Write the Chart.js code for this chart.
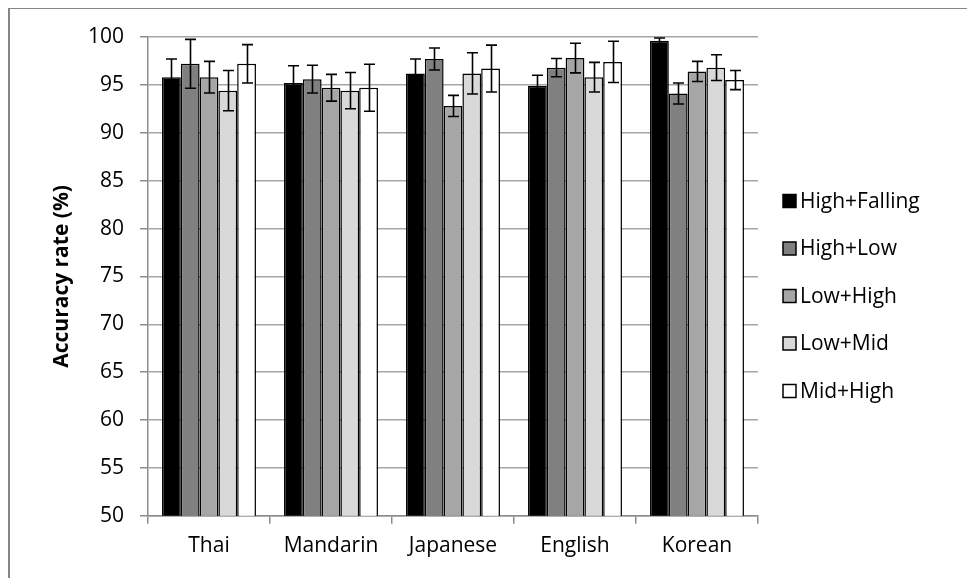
<!DOCTYPE html>
<html>
<head>
<meta charset="utf-8">
<script src="https://cdn.jsdelivr.net/npm/chart.js@4/dist/chart.umd.min.js"></script>
<style>
  html, body { margin: 0; padding: 0; background: #fff; }
  #wrap { position: relative; width: 967px; height: 578px; overflow: hidden; }
  #frame { position: absolute; left: 8px; top: 8px; width: 1000px; height: 600px;
           border-left: 2px solid #868686; border-top: 1px solid #868686; }
  canvas { position: absolute; left: 0; top: 0; }
</style>
</head>
<body>
<div id="wrap">
  <div id="frame"></div>
  <canvas id="c" width="967" height="578"></canvas>
</div>
<script>
// Languages on the x axis
const languages = ['Thai', 'Mandarin', 'Japanese', 'English', 'Korean'];

// Tone-pair conditions (one series each)
const seriesNames = ['High+Falling', 'High+Low', 'Low+High', 'Low+Mid', 'Mid+High'];
const seriesColors = ['#000000', '#808080', '#a6a6a6', '#d9d9d9', '#ffffff'];

// Mean accuracy (%) per condition, in language order
const highFalling = [95.8, 95.2, 96.2, 94.9, 99.6];
const highLow     = [97.2, 95.6, 97.7, 96.8, 94.1];
const lowHigh     = [95.8, 94.7, 92.8, 97.8, 96.4];
const lowMid      = [94.4, 94.4, 96.2, 95.8, 96.8];
const midHigh     = [97.2, 94.7, 96.7, 97.4, 95.5];

// Error-bar half-lengths (%) per condition
const highFallingErr = [1.9, 1.8, 1.5, 1.1, 0.3];
const highLowErr     = [2.55, 1.45, 1.15, 0.95, 1.1];
const lowHighErr     = [1.65, 1.4, 1.1, 1.55, 1.05];
const lowMidErr      = [2.1, 1.9, 2.15, 1.55, 1.35];
const midHighErr     = [2.0, 2.45, 2.45, 2.15, 1.0];

// y axis range and step
const yMin = 50, yMax = 100, yStep = 5;

const values = [highFalling, highLow, lowHigh, lowMid, midHigh];
const errors = [highFallingErr, highLowErr, lowHighErr, lowMidErr, midHighErr];

const FONT = '"Open Sans", "DejaVu Sans", sans-serif';

// Draws symmetric error bars with caps on top of each bar
const errorBars = {
  id: 'errorBars',
  afterDatasetsDraw(chart) {
    const ctx = chart.ctx;
    const y = chart.scales.y;
    ctx.save();
    ctx.strokeStyle = '#000';
    ctx.lineWidth = 1.6;
    chart.data.datasets.forEach((ds, di) => {
      const meta = chart.getDatasetMeta(di);
      meta.data.forEach((bar, i) => {
        const v = ds.data[i];
        const e = ds.errors[i];
        const yTop = y.getPixelForValue(v + e);
        const yBot = y.getPixelForValue(v - e);
        const x = Math.round(bar.x) + 0.5;
        const cap = 5.5;
        ctx.beginPath();
        ctx.moveTo(x, yTop); ctx.lineTo(x, yBot);
        ctx.moveTo(x - cap, yTop); ctx.lineTo(x + cap, yTop);
        ctx.moveTo(x - cap, yBot); ctx.lineTo(x + cap, yBot);
        ctx.stroke();
      });
    });
    ctx.restore();
  }
};

// Legend column to the right of the plot area
const sideLegend = {
  id: 'sideLegend',
  afterDraw(chart) {
    const ctx = chart.ctx;
    const area = chart.chartArea;
    const boxX = area.right + 25;
    const textX = boxX + 17;
    const firstY = 201;
    const gap = 47.5;
    const box = 13;
    ctx.save();
    ctx.font = '21px ' + FONT;
    ctx.textBaseline = 'middle';
    ctx.textAlign = 'left';
    chart.data.datasets.forEach((ds, i) => {
      const cy = firstY + i * gap;
      ctx.fillStyle = ds.backgroundColor;
      ctx.fillRect(boxX, cy - box / 2, box, box);
      ctx.strokeStyle = '#000';
      ctx.lineWidth = 1.5;
      ctx.strokeRect(boxX, cy - box / 2, box, box);
      ctx.fillStyle = '#000';
      ctx.fillText(ds.label, textX, cy + 1);
    });
    ctx.restore();
  }
};

const datasets = seriesNames.map((name, i) => ({
  label: name,
  data: values[i],
  errors: errors[i],
  backgroundColor: seriesColors[i],
  borderColor: '#000',
  borderWidth: 1.5,
  categoryPercentage: 0.77,
  barPercentage: 1.0
}));

new Chart(document.getElementById('c'), {
  type: 'bar',
  data: { labels: languages, datasets },
  options: {
    responsive: false,
    animation: false,
    devicePixelRatio: 1,
    layout: { padding: { top: 37, right: 209, bottom: 9, left: 0 } },
    plugins: { legend: { display: false }, tooltip: { enabled: false } },
    scales: {
      x: {
        grid: {
          offset: true,
          drawOnChartArea: false,
          drawTicks: true,
          tickLength: 8,
          color: '#8c8c8c',
          lineWidth: 1.5
        },
        border: { color: '#8c8c8c', width: 1.5 },
        ticks: { color: '#000', padding: 10, font: { family: FONT, size: 21 } }
      },
      y: {
        min: yMin,
        max: yMax,
        afterFit(scale) { scale.width = 148; },
        grid: {
          color: '#a6a6a6',
          lineWidth: 1.5,
          drawTicks: true,
          tickLength: 8,
          tickColor: '#8c8c8c'
        },
        border: { color: '#8c8c8c', width: 1.5 },
        ticks: {
          stepSize: yStep,
          color: '#000',
          padding: 16,
          font: { family: FONT, size: 21 }
        },
        title: {
          display: true,
          text: 'Accuracy rate (%)',
          color: '#000',
          font: { family: FONT, size: 21, weight: 'bold' },
          padding: { top: 49, bottom: 0 }
        }
      }
    }
  },
  plugins: [errorBars, sideLegend]
});
</script>
</body>
</html>
